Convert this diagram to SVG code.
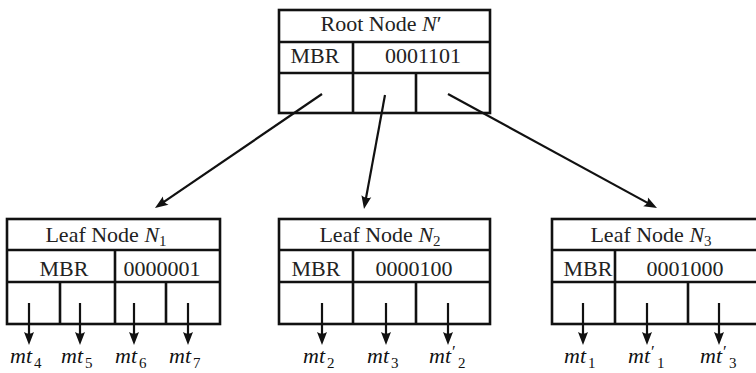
<svg xmlns="http://www.w3.org/2000/svg" width="756" height="373" viewBox="0 0 756 373">
<style>
.box{fill:#fff;stroke:#111;stroke-width:2.6}
.ln{stroke:#111;stroke-width:2.6;fill:none}
.t{font-family:"Liberation Serif","Times New Roman",serif;font-size:22px;fill:#222;text-anchor:middle}
.it{font-style:italic}
.sub{font-size:15px}
.lab{font-family:"Liberation Serif","Times New Roman",serif;font-size:22px;font-style:italic;fill:#111}
.lab .d{font-style:normal;font-size:15px}
.lab .p{font-style:normal;font-size:17px}
.con{stroke:#111;stroke-width:2.2;fill:none;marker-end:url(#ah)}
</style>
<defs>
<marker id="ah" markerUnits="userSpaceOnUse" viewBox="-9 -6 15 12" markerWidth="15" markerHeight="12" refX="0" refY="0" orient="auto">
<path d="M5,0 L-8,-5 Q-4.5,0 -8,5 Z" fill="#111"/>
</marker>
</defs>
<rect width="756" height="373" fill="#fff"/>

<g id="root">
<rect class="box" x="279" y="10" width="211" height="103"/>
<path class="ln" d="M279,42 H490 M279,73 H490 M353,42 V113 M416,73 V113"/>
<text class="t" x="381" y="31">Root Node <tspan class="it">N</tspan>′</text>
<text class="t" x="315" y="63">MBR</text>
<text class="t" x="423" y="63">0001101</text>
</g>

<g id="leaf1">
<rect class="box" x="7" y="219" width="213" height="105"/>
<path class="ln" d="M7,250 H220 M7,282 H220 M115,250 V324 M60,282 V324 M166,282 V324"/>
<text class="t" x="106" y="242">Leaf Node <tspan class="it">N</tspan><tspan class="sub" dy="4">1</tspan></text>
<text class="t" x="64" y="276">MBR</text>
<text class="t" x="162" y="276">0000001</text>
</g>

<g id="leaf2">
<rect class="box" x="279" y="219" width="211" height="105"/>
<path class="ln" d="M279,250 H490 M279,282 H490 M353,250 V324 M416,282 V324"/>
<text class="t" x="380" y="242">Leaf Node <tspan class="it">N</tspan><tspan class="sub" dy="4">2</tspan></text>
<text class="t" x="316" y="276">MBR</text>
<text class="t" x="414" y="276">0000100</text>
</g>

<g id="leaf3">
<rect class="box" x="552" y="219" width="210" height="105"/>
<path class="ln" d="M552,250 H762 M552,282 H762 M615,250 V324 M688,282 V324"/>
<text class="t" x="651" y="242">Leaf Node <tspan class="it">N</tspan><tspan class="sub" dy="4">3</tspan></text>
<text class="t" x="588" y="276">MBR</text>
<text class="t" x="685" y="276">0001000</text>
</g>

<g id="connectors">
<path class="con" d="M322,94 L159.1,205.2"/>
<path class="con" d="M385,95 L364.9,204.1"/>
<path class="con" d="M448,94 L652.6,205.6"/>
<path class="con" d="M29,303 V340"/>
<path class="con" d="M80,303 V340"/>
<path class="con" d="M134,303 V340"/>
<path class="con" d="M188,303 V340"/>
<path class="con" d="M322,303 V340"/>
<path class="con" d="M386,303 V340"/>
<path class="con" d="M448,303 V340"/>
<path class="con" d="M583,303 V340"/>
<path class="con" d="M647,303 V340"/>
<path class="con" d="M719,303 V340"/>
</g>

<g id="labels">
<text class="lab" x="10" y="363">mt<tspan class="d" dx="2" dy="5">4</tspan></text>
<text class="lab" x="61" y="363">mt<tspan class="d" dx="2" dy="5">5</tspan></text>
<text class="lab" x="115" y="363">mt<tspan class="d" dx="2" dy="5">6</tspan></text>
<text class="lab" x="169" y="363">mt<tspan class="d" dx="2" dy="5">7</tspan></text>
<text class="lab" x="303" y="363">mt<tspan class="d" dx="2" dy="5">2</tspan></text>
<text class="lab" x="367" y="363">mt<tspan class="d" dx="2" dy="5">3</tspan></text>
<text class="lab" x="429" y="363">mt<tspan class="p" x="452" dy="-6">′</tspan><tspan class="d" x="458" dy="11">2</tspan></text>
<text class="lab" x="564" y="363">mt<tspan class="d" dx="2" dy="5">1</tspan></text>
<text class="lab" x="628" y="363">mt<tspan class="p" x="651" dy="-6">′</tspan><tspan class="d" x="657" dy="11">1</tspan></text>
<text class="lab" x="700" y="363">mt<tspan class="p" x="723" dy="-6">′</tspan><tspan class="d" x="729" dy="11">3</tspan></text>
</g>
</svg>
